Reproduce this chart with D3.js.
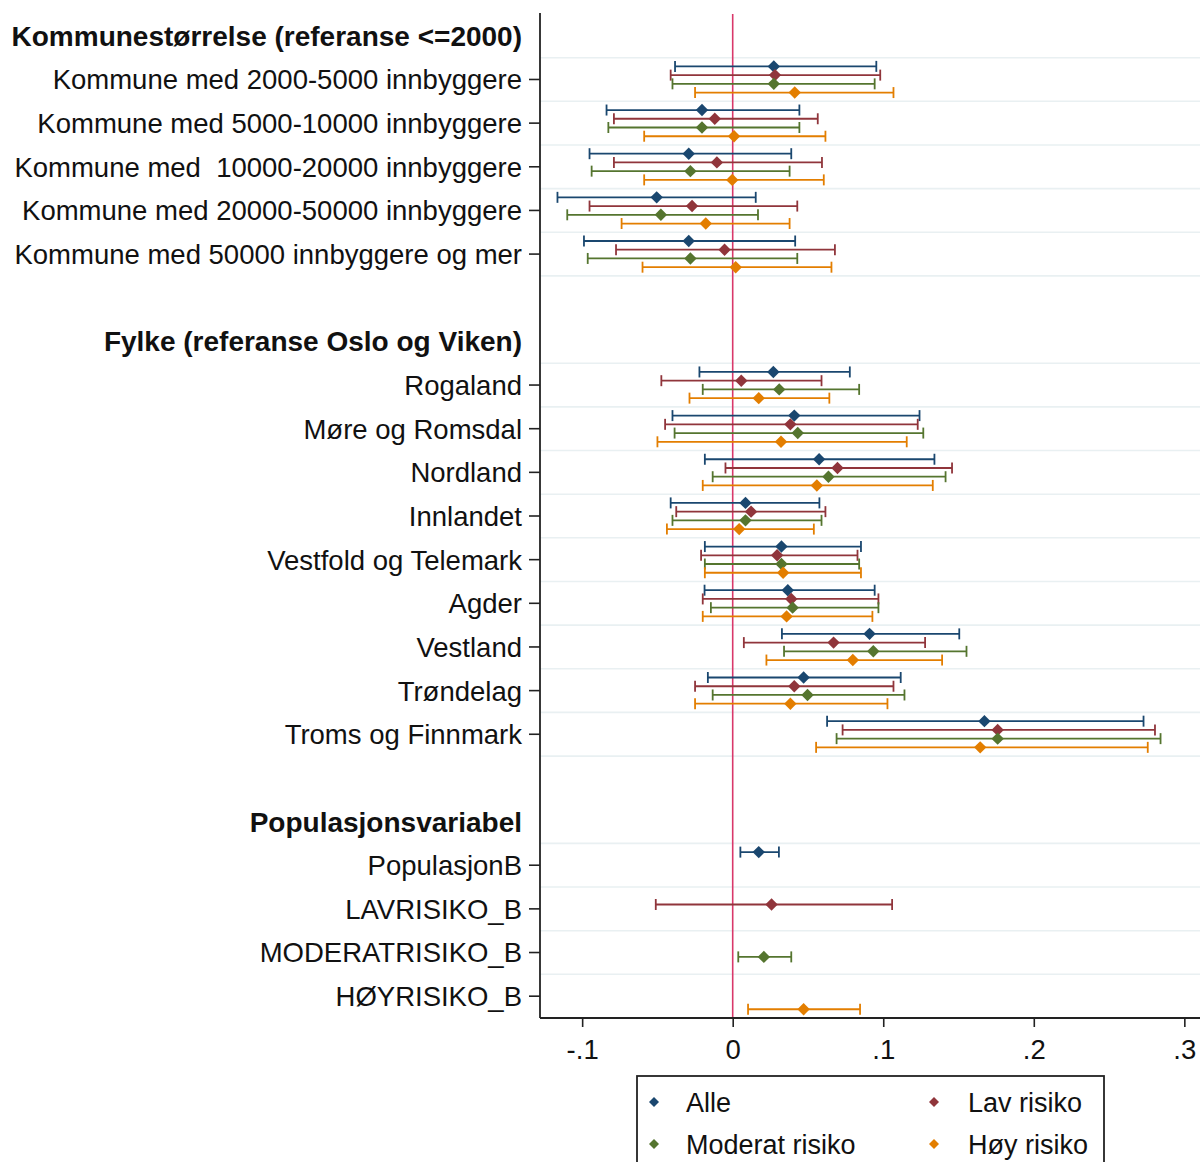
<!DOCTYPE html>
<html>
<head>
<meta charset="utf-8">
<script src="https://cdn.jsdelivr.net/npm/d3@7"></script>
<style>
  html, body { margin: 0; padding: 0; background: #fff; }
  svg { display: block; font-family: "Liberation Sans", Arial, sans-serif; }
  svg text { white-space: pre; }
</style>
</head>
<body>
<svg id="chart" width="1200" height="1162"></svg>
<script>
// Group headings and the variables listed under each
const groupTitles = [
  "Kommunestørrelse (referanse <=2000)",
  "Fylke (referanse Oslo og Viken)",
  "Populasjonsvariabel"
];
const kommuneRows = [
  "Kommune med 2000-5000 innbyggere",
  "Kommune med 5000-10000 innbyggere",
  "Kommune med  10000-20000 innbyggere",
  "Kommune med 20000-50000 innbyggere",
  "Kommune med 50000 innbyggere og mer"
];
const fylkeRows = [
  "Rogaland", "Møre og Romsdal", "Nordland", "Innlandet",
  "Vestfold og Telemark", "Agder", "Vestland", "Trøndelag", "Troms og Finnmark"
];
const popRows = ["PopulasjonB", "LAVRISIKO_B", "MODERATRISIKO_B", "HØYRISIKO_B"];

// Series names (legend order)
const seriesNames = ["Alle", "Lav risiko", "Moderat risiko", "Høy risiko"];

// Estimates and 95% CI bounds, one entry per variable row (kommune, fylke, populasjon)
const alleEst = [0.0273, -0.0204, -0.0292, -0.0505, -0.0292,
  0.0270, 0.0409, 0.0574, 0.0085, 0.0324, 0.0366, 0.0909, 0.0471, 0.1672,
  0.0173, null, null, null];
const alleLo = [-0.0383, -0.0838, -0.0951, -0.1164, -0.0988,
  -0.0221, -0.0400, -0.0185, -0.0412, -0.0185, -0.0187, 0.0327, -0.0165, 0.0627,
  0.0051, null, null, null];
const alleHi = [0.0954, 0.0443, 0.0389, 0.0153, 0.0415,
  0.0778, 0.1241, 0.1340, 0.0576, 0.0852, 0.0943, 0.1505, 0.1116, 0.2729,
  0.0307, null, null, null];

const lavEst = [0.0281, -0.0119, -0.0105, -0.0270, -0.0054,
  0.0057, 0.0383, 0.0696, 0.0122, 0.0295, 0.0389, 0.0670, 0.0409, 0.1760,
  null, 0.0258, null, null];
const lavLo = [-0.0412, -0.0789, -0.0789, -0.0951, -0.0775,
  -0.0474, -0.0449, -0.0048, -0.0375, -0.0210, -0.0199, 0.0074, -0.0250, 0.0730,
  null, -0.0511, null, null];
const lavHi = [0.0980, 0.0565, 0.0593, 0.0429, 0.0679,
  0.0590, 0.1229, 0.1457, 0.0616, 0.0829, 0.0968, 0.1278, 0.1068, 0.2805,
  null, 0.1059, null, null];

const modEst = [0.0273, -0.0204, -0.0281, -0.0477, -0.0281,
  0.0309, 0.0432, 0.0636, 0.0085, 0.0324, 0.0398, 0.0934, 0.0497, 0.1760,
  null, null, 0.0207, null];
const modLo = [-0.0400, -0.0826, -0.0937, -0.1099, -0.0963,
  -0.0199, -0.0386, -0.0133, -0.0400, -0.0185, -0.0145, 0.0341, -0.0133, 0.0690,
  null, null, 0.0037, null];
const modHi = [0.0943, 0.0443, 0.0378, 0.0168, 0.0429,
  0.0840, 0.1266, 0.1414, 0.0590, 0.0840, 0.0968, 0.1553, 0.1141, 0.2842,
  null, null, 0.0389, null];

const hoyEst = [0.0412, 0.0009, -0.0003, -0.0179, 0.0020,
  0.0173, 0.0321, 0.0559, 0.0043, 0.0335, 0.0358, 0.0798, 0.0383, 0.1644,
  null, null, null, 0.0471];
const hoyLo = [-0.0250, -0.0588, -0.0588, -0.0738, -0.0599,
  -0.0287, -0.0500, -0.0199, -0.0437, -0.0185, -0.0199, 0.0224, -0.0250, 0.0554,
  null, null, null, 0.0102];
const hoyHi = [0.1068, 0.0616, 0.0605, 0.0378, 0.0656,
  0.0642, 0.1156, 0.1329, 0.0539, 0.0852, 0.0928, 0.1391, 0.1028, 0.2757,
  null, null, null, 0.0846];

// X axis ticks
const xTickValues = [-0.1, 0, 0.1, 0.2, 0.3];
const xTickLabels = ["-.1", "0", ".1", ".2", ".3"];

const seriesColors = ["#1a476f", "#90353b", "#55752f", "#e37e00"];

// ---- Build the row layout: heading, variables, spacer, heading, ... ----
const variableGroups = [kommuneRows, fylkeRows, popRows];
const rows = [];
let varIndex = 0;
variableGroups.forEach((vars, g) => {
  if (g > 0) rows.push({ kind: "spacer", label: "" });
  rows.push({ kind: "header", label: groupTitles[g] });
  vars.forEach(v => rows.push({ kind: "var", label: v, vi: varIndex++ }));
});
rows.forEach((r, i) => r.key = "r" + i);

const series = [
  { name: seriesNames[0], est: alleEst, lo: alleLo, hi: alleHi, color: seriesColors[0] },
  { name: seriesNames[1], est: lavEst, lo: lavLo, hi: lavHi, color: seriesColors[1] },
  { name: seriesNames[2], est: modEst, lo: modLo, hi: modHi, color: seriesColors[2] },
  { name: seriesNames[3], est: hoyEst, lo: hoyLo, hi: hoyHi, color: seriesColors[3] }
];

// ---- Scales ----
const plotLeft = 540, plotRight = 1229.5, plotTop = 14, plotBottom = 1018;
const x = d3.scaleLinear().domain([-0.128, 0.330]).range([plotLeft, plotRight]);
const y = d3.scaleBand().domain(rows.map(r => r.key)).range([plotTop, plotBottom]).padding(0);
const offset = d3.scaleBand().domain(seriesNames).range([0, y.bandwidth()]).paddingOuter(0.5);

const svg = d3.select("#chart");
svg.append("rect").attr("width", 1200).attr("height", 1162).attr("fill", "#fff");

// ---- Light gridlines around the variable rows ----
const gridYs = new Set();
rows.filter(r => r.kind === "var").forEach(r => {
  gridYs.add(Math.round(y(r.key) * 10) / 10);
  gridYs.add(Math.round((y(r.key) + y.bandwidth()) * 10) / 10);
});
svg.append("g").selectAll("line")
  .data([...gridYs].filter(v => v < plotBottom - 1))
  .join("line")
  .attr("x1", plotLeft).attr("x2", 1200)
  .attr("y1", d => d).attr("y2", d => d)
  .attr("stroke", "#e9f0f2").attr("stroke-width", 1.6);

// ---- Reference line at zero ----
svg.append("line")
  .attr("x1", x(0)).attr("x2", x(0))
  .attr("y1", plotTop).attr("y2", plotBottom)
  .attr("stroke", "#d9386a").attr("stroke-width", 1.6);

// ---- Axes ----
const yAxis = d3.axisLeft(y)
  .tickSize(11).tickPadding(7)
  .tickFormat(k => rows.find(r => r.key === k).label);
const gy = svg.append("g").attr("transform", `translate(${plotLeft},0)`).call(yAxis);
gy.select(".domain").attr("d", `M0,${plotTop - 1}V${plotBottom}`).attr("stroke", "#222").attr("stroke-width", 1.8);
gy.selectAll(".tick").each(function (k) {
  const r = rows.find(rr => rr.key === k);
  const t = d3.select(this);
  if (r.kind !== "var") t.select("line").remove();
  t.select("text")
    .attr("x", -18)
    .attr("dy", "0.36em")
    .attr("fill", "#111")
    .style("font-size", r.kind === "header" ? "28px" : "27.5px")
    .style("font-weight", r.kind === "header" ? "bold" : "normal");
});
gy.selectAll(".tick line").attr("stroke", "#222").attr("stroke-width", 1.6);

const xAxis = d3.axisBottom(x)
  .tickValues(xTickValues)
  .tickSize(9).tickPadding(12)
  .tickFormat((d, i) => xTickLabels[i]);
const gx = svg.append("g").attr("transform", `translate(0,${plotBottom})`).call(xAxis);
gx.select(".domain").attr("d", `M${plotLeft},0H1200`).attr("stroke", "#222").attr("stroke-width", 1.8);
gx.selectAll(".tick line").attr("stroke", "#222").attr("stroke-width", 1.6);
gx.selectAll(".tick text").attr("fill", "#111").style("font-size", "27.5px");

// ---- CI caps and point estimates ----
const capHalf = 5.5;
const diamond = s => `M0,${-s}L${s},0L0,${s}L${-s},0Z`;
const varRows = rows.filter(r => r.kind === "var");

series.forEach(s => {
  const g = svg.append("g");
  const pts = varRows
    .map(r => ({ r, est: s.est[r.vi], lo: s.lo[r.vi], hi: s.hi[r.vi] }))
    .filter(d => d.est !== null);
  const yy = d => y(d.r.key) + offset(s.name) + offset.bandwidth() / 2;

  const cap = g.selectAll("g.ci").data(pts).join("g").attr("class", "ci")
    .attr("stroke", s.color).attr("stroke-width", 1.8).attr("fill", "none");
  cap.append("line")
    .attr("x1", d => x(d.lo)).attr("x2", d => x(d.hi))
    .attr("y1", yy).attr("y2", yy);
  cap.append("line")
    .attr("x1", d => x(d.lo)).attr("x2", d => x(d.lo))
    .attr("y1", d => yy(d) - capHalf).attr("y2", d => yy(d) + capHalf);
  cap.append("line")
    .attr("x1", d => x(d.hi)).attr("x2", d => x(d.hi))
    .attr("y1", d => yy(d) - capHalf).attr("y2", d => yy(d) + capHalf);

  g.selectAll("path.pt").data(pts).join("path").attr("class", "pt")
    .attr("d", diamond(6.2))
    .attr("transform", d => `translate(${x(d.est)},${yy(d)})`)
    .attr("fill", s.color);
});

// ---- Legend ----
const legend = svg.append("g");
legend.append("rect")
  .attr("x", 637).attr("y", 1076).attr("width", 467).attr("height", 110)
  .attr("fill", "#fff").attr("stroke", "#222").attr("stroke-width", 1.8);
const legPos = [
  { mx: 654, tx: 686, y: 1102 },
  { mx: 934, tx: 968, y: 1102 },
  { mx: 654, tx: 686, y: 1144 },
  { mx: 934, tx: 968, y: 1144 }
];
series.forEach((s, i) => {
  const p = legPos[i];
  legend.append("path").attr("d", diamond(5))
    .attr("transform", `translate(${p.mx},${p.y})`).attr("fill", s.color);
  legend.append("text").attr("x", p.tx).attr("y", p.y).attr("dy", "0.36em")
    .attr("fill", "#111").style("font-size", "27px").text(s.name);
});
</script>
</body>
</html>
